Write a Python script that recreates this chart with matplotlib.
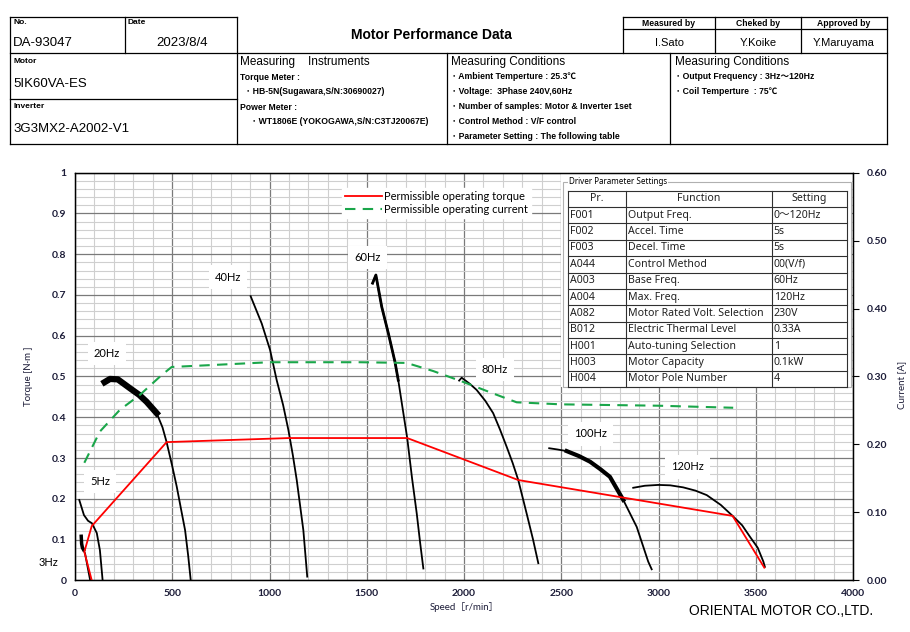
import numpy as np
import matplotlib
matplotlib.use("Agg")
import matplotlib.pyplot as plt
from matplotlib.lines import Line2D
from matplotlib.patches import Rectangle
from matplotlib.ticker import MultipleLocator, FormatStrFormatter

W, H = 910, 632
plt.rcParams['font.family'] = ['Liberation Sans', 'Noto Sans CJK JP', 'DejaVu Sans']
CHART_FONT = ['Lato', 'Noto Sans CJK JP', 'DejaVu Sans']
NAVY = '#1c1c38'

# ---- speed / torque curves per output frequency ----
speed_3hz = [32, 34, 38, 44, 52, 62, 72, 78]
torque_3hz = [0.108, 0.09, 0.08, 0.075, 0.065, 0.04, 0.015, 0.0]

speed_5hz = [22, 46, 67, 87, 112, 128, 142]
torque_5hz = [0.197, 0.160, 0.146, 0.140, 0.116, 0.074, 0.0]

speed_20hz = [152, 180, 220, 283, 330, 368, 420, 450, 471, 500, 523, 545, 566, 582, 595]
torque_20hz = [0.486, 0.494, 0.493, 0.471, 0.455, 0.438, 0.41, 0.375, 0.339, 0.28, 0.230,
               0.175, 0.123, 0.06, 0.0]

speed_40hz = [903, 960, 1003, 1037, 1070, 1097, 1120, 1140, 1174, 1194]
torque_40hz = [0.697, 0.63, 0.565, 0.491, 0.43, 0.369, 0.307, 0.246, 0.123, 0.009]

speed_60hz = [1530, 1547, 1577, 1611, 1645, 1662, 1685, 1708, 1733, 1757, 1775, 1791]
torque_60hz = [0.729, 0.749, 0.671, 0.606, 0.536, 0.491, 0.42, 0.349, 0.25, 0.164, 0.09, 0.029]

speed_80hz = [1975, 1988, 2030, 2065, 2110, 2150, 2185, 2219, 2250, 2279, 2322, 2355, 2382]
torque_80hz = [0.490, 0.497, 0.482, 0.467, 0.44, 0.410, 0.37, 0.328, 0.288, 0.246, 0.164,
               0.10, 0.042]

speed_100hz = [2438, 2480, 2528, 2590, 2648, 2700, 2750, 2819, 2888, 2947, 2965]
torque_100hz = [0.324, 0.321, 0.317, 0.305, 0.291, 0.273, 0.254, 0.197, 0.131, 0.046, 0.027]

speed_120hz = [2870, 2930, 2999, 3060, 3127, 3190, 3248, 3320, 3381, 3430, 3470, 3510, 3539, 3547]
torque_120hz = [0.227, 0.232, 0.234, 0.233, 0.228, 0.220, 0.209, 0.185, 0.158, 0.135, 0.107,
                0.08, 0.046, 0.033]

# ---- permissible limits ----
limit_torque_speed = [86, 48, 86, 471, 1100, 1708, 2279, 3381, 3544]
limit_torque = [0.0, 0.07, 0.133, 0.339, 0.349, 0.349, 0.246, 0.158, 0.031]

limit_current_speed = [48, 128, 231, 334, 445, 497, 1000, 1465, 1705, 1842, 1996, 2150, 2271,
                       2500, 3000, 3384]
limit_current = [0.173, 0.219, 0.251, 0.273, 0.302, 0.314, 0.321, 0.321, 0.320, 0.308, 0.292,
                 0.275, 0.262, 0.259, 0.257, 0.254]

# ---- frequency labels (speed, torque) ----
freq_labels = ['5Hz', '20Hz', '40Hz', '60Hz', '80Hz', '100Hz', '120Hz']
freq_label_speed = [128, 164, 786, 1504, 2159, 2652, 3151]
freq_label_torque = [0.243, 0.557, 0.744, 0.791, 0.518, 0.359, 0.278]

# ---- driver parameter table ----
param_codes = ["F001", "F002", "F003", "A044", "A003", "A004", "A082", "B012", "H001", "H003", "H004"]
param_functions = ["Output Freq.", "Accel. Time", "Decel. Time", "Control Method", "Base Freq.",
                   "Max. Freq.", "Motor Rated Volt. Selection", "Electric Thermal Level",
                   "Auto-tuning Selection", "Motor Capacity", "Motor Pole Number"]
param_settings = ["0～120Hz", "5s", "5s", "00(V/f)", "60Hz", "120Hz", "230V", "0.33A", "1",
                  "0.1kW", "4"]


def fx(x):
    return x / W


def fy(y):
    return 1 - y / H


def hline(fig, y, x0, x1, lw=0.9, color='black'):
    fig.add_artist(Line2D([fx(x0), fx(x1)], [fy(y), fy(y)], transform=fig.transFigure,
                          color=color, lw=lw))


def vline(fig, x, y0, y1, lw=0.9, color='black'):
    fig.add_artist(Line2D([fx(x), fx(x)], [fy(y0), fy(y1)], transform=fig.transFigure,
                          color=color, lw=lw))


def ftext(fig, x, y, s, size=8, ha='left', weight='normal', **kw):
    fig.text(fx(x), fy(y), s, ha=ha, va='center', fontsize=size, fontweight=weight, **kw)


fig = plt.figure(figsize=(W / 100, H / 100), dpi=100)

# ---------------- header block ----------------
hline(fig, 17.3, 10, 237)
hline(fig, 53.3, 10, 887)
hline(fig, 99.3, 10, 237)
hline(fig, 144, 10, 887)
vline(fig, 10, 17.3, 144)
vline(fig, 125, 17.3, 53.3)
vline(fig, 237, 17.3, 144)
vline(fig, 446.7, 53.3, 144)
vline(fig, 670, 53.3, 144)
vline(fig, 887, 17.3, 144)
hline(fig, 17.3, 622.7, 887)
hline(fig, 29.3, 622.7, 887)
for xv in [622.7, 715.3, 800.7]:
    vline(fig, xv, 17.3, 53.3)

ftext(fig, 13, 22.5, "No.", 6, weight='bold')
ftext(fig, 13, 43, "DA-93047", 9.5)
ftext(fig, 128, 22.5, "Date", 6, weight='bold')
ftext(fig, 182, 43, "2023/8/4", 9.5, ha='center')
ftext(fig, 431, 35, "Motor Performance Data", 10, ha='center', weight='bold')

signers_role = ["Measured by", "Cheked by", "Approved by"]
signers_name = ["I.Sato", "Y.Koike", "Y.Maruyama"]
for xc, role, name in zip([669, 758, 844], signers_role, signers_name):
    ftext(fig, xc, 23.5, role, 6.2, ha='center', weight='bold')
    ftext(fig, xc, 42.5, name, 8, ha='center')

ftext(fig, 13, 61.5, "Motor", 6, weight='bold')
ftext(fig, 13, 84, "5IK60VA-ES", 9.5)
ftext(fig, 13, 106.5, "Inverter", 6, weight='bold')
ftext(fig, 13, 129, "3G3MX2-A2002-V1", 9.5)

ftext(fig, 240, 62, "Measuring    Instruments", 8.5)
ftext(fig, 240, 77, "Torque Meter :", 6.2, weight='bold')
ftext(fig, 246, 92, "･ HB-5N(Sugawara,S/N:30690027)", 6.2, weight='bold')
ftext(fig, 240, 107, "Power Meter :", 6.2, weight='bold')
ftext(fig, 252, 122, "･ WT1806E (YOKOGAWA,S/N:C3TJ20067E)", 6.2, weight='bold')

ftext(fig, 451, 62, "Measuring Conditions", 8.5)
cond_lines = ["･ Ambient Temperture : 25.3℃", "･ Voltage:  3Phase 240V,60Hz",
              "･ Number of samples: Motor & Inverter 1set", "･ Control Method : V/F control",
              "･ Parameter Setting : The following table"]
for i, s in enumerate(cond_lines):
    ftext(fig, 452, 76.5 + 15 * i, s, 6.2, weight='bold')

ftext(fig, 675, 62, "Measuring Conditions", 8.5)
cond_lines2 = ["･ Output Frequency : 3Hz～120Hz", "･ Coil Temperture  : 75℃"]
for i, s in enumerate(cond_lines2):
    ftext(fig, 676, 76.5 + 15 * i, s, 6.2, weight='bold')

# ---------------- chart ----------------
ax = fig.add_axes([fx(75), fy(580.3), fx(853) - fx(75), (580.3 - 172.7) / H])
ax.set_xlim(0, 4000)
ax.set_ylim(0, 1)
ax.xaxis.set_major_locator(MultipleLocator(500))
ax.xaxis.set_minor_locator(MultipleLocator(100))
ax.yaxis.set_major_locator(MultipleLocator(0.1))
ax.yaxis.set_minor_locator(MultipleLocator(0.02))
ax.set_axisbelow(True)
ax.grid(which='minor', color='#cfcfcf', lw=0.8)
ax.grid(which='major', color='#7a7a7a', lw=0.9)
ax.tick_params(which='both', length=0, pad=6, labelsize=7.5, labelcolor=NAVY)
ax.set_yticks(np.arange(0, 1.01, 0.1))
ax.set_yticklabels(['0'] + [f'{v:.1f}' for v in np.arange(0.1, 0.95, 0.1)] + ['1'])
for lab in ax.get_xticklabels() + ax.get_yticklabels():
    lab.set_fontweight('bold')
    lab.set_family(CHART_FONT)
for sp in ax.spines.values():
    sp.set_color('black')
    sp.set_linewidth(1)

ax.set_xlabel("Speed［r/min］", fontsize=7, color=NAVY, family=CHART_FONT, labelpad=3)
ax.set_ylabel("Torque [N·m ]", fontsize=7, color=NAVY, family=CHART_FONT, labelpad=14)

# white parameter box hides grid
ax.add_patch(Rectangle((fx(561), fy(387)), fx(852) - fx(561), (387 - 173) / H,
                       transform=fig.transFigure, fc='white', ec='none', zorder=1))

curve_speeds = [speed_3hz, speed_5hz, speed_20hz, speed_40hz, speed_60hz, speed_80hz,
                speed_100hz, speed_120hz]
curve_torques = [torque_3hz, torque_5hz, torque_20hz, torque_40hz, torque_60hz, torque_80hz,
                 torque_100hz, torque_120hz]
for sp_, tq in zip(curve_speeds, curve_torques):
    ax.plot(sp_, tq, color='black', lw=1.3, zorder=3)
# noisy (thick) sections of the measured traces
ax.plot(speed_20hz[:7], torque_20hz[:7], color='black', lw=4.5, zorder=3)
ax.plot(speed_3hz[:4], torque_3hz[:4], color='black', lw=2.5, zorder=3)
ax.plot(speed_60hz[:6], torque_60hz[:6], color='black', lw=2.0, zorder=3)
ax.plot(speed_100hz[2:8], torque_100hz[2:8], color='black', lw=3.0, zorder=3)

torque_line, = ax.plot(limit_torque_speed, limit_torque, color='#ff0000', lw=1.3, zorder=4,
                       label='Permissible operating torque')

for s, xv, yv in zip(freq_labels, freq_label_speed, freq_label_torque):
    ax.text(xv, yv, s, ha='center', va='center', fontsize=8, family=CHART_FONT, zorder=5,
            bbox=dict(boxstyle='square,pad=0.55', fc='white', ec='none'))
fig.text(fx(48), fy(562), '3Hz', ha='center', va='center', fontsize=8, family=CHART_FONT)

ax2 = ax.twinx()
ax2.set_ylim(0, 0.6)
ax2.yaxis.set_major_locator(MultipleLocator(0.1))
ax2.yaxis.set_major_formatter(FormatStrFormatter('%.2f'))
ax2.tick_params(which='major', direction='out', length=4, width=0.8, pad=6, labelsize=7.5,
                labelcolor=NAVY)
for lab in ax2.get_yticklabels():
    lab.set_fontweight('bold')
    lab.set_family(CHART_FONT)
ax2.set_ylabel("Current [A]", fontsize=7, color=NAVY, family=CHART_FONT, labelpad=8)
ax2.yaxis.set_label_coords(1.057, 0.48)
current_line, = ax2.plot(limit_current_speed, limit_current, color='#1aa64a', lw=1.5,
                         dashes=(5, 3.5), zorder=4, label='Permissible operating current')

# legend
leg = fig.legend(handles=[torque_line, current_line], loc='upper left',
                 bbox_to_anchor=(fx(336), fy(182)), frameon=True, fancybox=False,
                 edgecolor='white', framealpha=1, prop={'family': CHART_FONT, 'size': 8},
                 handlelength=3.3, handletextpad=0.2, labelspacing=0.15, borderpad=0.3)

# parameter table
fig.add_artist(Rectangle((fx(563), fy(387)), fx(851) - fx(563), (387 - 182) / H,
                         transform=fig.transFigure, fc='none', ec='#b0b0b0', lw=0.8))
fig.text(fx(569), fy(182), "Driver Parameter Settings", ha='left', va='center', fontsize=5.8,
         family=['Noto Sans', 'DejaVu Sans'],
         bbox=dict(boxstyle='square,pad=0.15', fc='white', ec='none'))
col_x = [568.3, 626, 771.7, 847.3]
row_top = 190.7
row_h = 16.36
n_rows = len(param_codes) + 1
table_bottom = row_top + n_rows * row_h
for i in range(n_rows + 1):
    hline(fig, row_top + i * row_h, col_x[0], col_x[-1], lw=0.8, color='#303030')
for xv in col_x:
    vline(fig, xv, row_top, table_bottom, lw=0.8, color='#303030')
tfont = ['Noto Sans', 'Noto Sans CJK JP', 'DejaVu Sans']
headers = ["Pr.", "Function", "Setting"]
for j, h in enumerate(headers):
    fig.text(fx((col_x[j] + col_x[j + 1]) / 2), fy(row_top + row_h / 2), h, ha='center',
             va='center', fontsize=7.6, family=tfont, color='#202020')
for i, (c, f, s) in enumerate(zip(param_codes, param_functions, param_settings)):
    yc = row_top + (i + 1.5) * row_h
    for j, v in enumerate([c, f, s]):
        fig.text(fx(col_x[j] + 2), fy(yc), v, ha='left', va='center', fontsize=7.6,
                 family=tfont, color='#202020')

fig.text(fx(873), fy(611), "ORIENTAL MOTOR CO.,LTD.", ha='right', va='center', fontsize=10,
         family=['Liberation Sans Narrow', 'Liberation Sans', 'DejaVu Sans'])

fig.savefig('out.png', dpi=100, facecolor='white')
